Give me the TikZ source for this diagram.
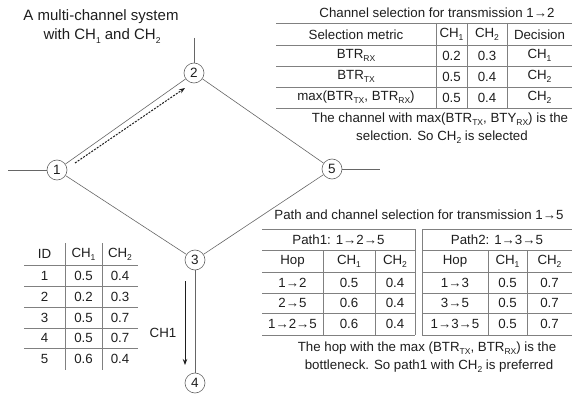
\documentclass[tikz,border=0pt]{standalone}
\usepackage{fontspec}
\setmainfont{Liberation Sans}
\usetikzlibrary{arrows.meta}
\definecolor{txt}{HTML}{1E1E1E}
\definecolor{edgec}{HTML}{666666}
\definecolor{rulec}{HTML}{808080}
\newcommand\sbs[1]{\raisebox{-0.45ex}{\fontsize{8.5}{8.5}\selectfont #1}}
\newcommand\ar{→}
\begin{document}
\begin{tikzpicture}[x=1pt,y=-1pt,
  every node/.style={inner sep=0pt,text=txt},
  tab/.style={font=\fontsize{13.3}{15}\selectfont},
  ttl/.style={font=\fontsize{13.3}{15}\selectfont},
  big/.style={font=\fontsize{15}{18}\selectfont},
  vtx/.style={circle,draw=edgec,fill=white,line width=0.6pt,minimum size=20pt,font=\fontsize{13.5}{15}\selectfont},
  edge/.style={draw=edgec,line width=0.6pt},
  rule/.style={draw=rulec,line width=0.7pt}]
\useasboundingbox (0,0) rectangle (574,396);
\fill[white] (0,0) rectangle (574,396);

% title
\node[big] (t1) at (101,17) {A multi-channel system};
\node[big] (t2) at (102,36) {with CH\sbs{1} and CH\sbs{2}};

% graph
\coordinate (e1) at (8,170);
\coordinate (e2) at (194,38);
\coordinate (e5) at (380,169);
\node[vtx] (n1) at (57,170) {1};
\node[vtx] (n2) at (194,73) {2};
\node[vtx] (n5) at (332,169) {5};
\node[vtx] (n3) at (195,260) {3};
\node[vtx] (n4) at (195,383) {4};
\draw[edge] (e1) -- (n1);
\draw[edge] (e2) -- (n2);
\draw[edge] (n5) -- (e5);
\draw[edge] (n1) -- (n2);
\draw[edge] (n2) -- (n5);
\draw[edge] (n1) -- (n3);
\draw[edge] (n3) -- (n5);
\draw[edge] (n3) -- (n4);

\coordinate (da) at (75,163);
\coordinate (db) at (185,88);
\draw[txt,line width=1pt,dash pattern=on 2pt off 1.3pt,-{Stealth[length=6pt,width=4.5pt]}] (da) -- (db);
\coordinate (ca) at (185,281);
\coordinate (cb) at (185,365);
\draw[txt,line width=1pt,-{Stealth[length=6pt,width=4.5pt]}] (ca) -- (cb);
\node[tab] (ch1) at (163,333) {CH1};

% top-right table
\node[ttl] (tt) at (437,13) {Channel selection for transmission 1\ar2};
\foreach \y in {23,45,66,87,108} \draw[rule] (276,\y) -- (572,\y);
\foreach \x in {436,467,507} \draw[rule] (\x,23) -- (\x,108);
\node[tab] (a11) at (356,34.5) {Selection metric};
\node[tab] (a12) at (451.5,34.5) {CH\sbs{1}};
\node[tab] (a13) at (487,34.5) {CH\sbs{2}};
\node[tab] (a14) at (539.5,34.5) {Decision};
\node[tab] (a21) at (356,55.5) {BTR\sbs{RX}};
\node[tab] (a22) at (451.5,55.5) {0.2};
\node[tab] (a23) at (487,55.5) {0.3};
\node[tab] (a24) at (539.5,55.5) {CH\sbs{1}};
\node[tab] (a31) at (356,76.5) {BTR\sbs{TX}};
\node[tab] (a32) at (451.5,76.5) {0.5};
\node[tab] (a33) at (487,76.5) {0.4};
\node[tab] (a34) at (539.5,76.5) {CH\sbs{2}};
\node[tab] (a41) at (356,97.5) {max(BTR\sbs{TX}, BTR\sbs{RX})};
\node[tab] (a42) at (451.5,97.5) {0.5};
\node[tab] (a43) at (487,97.5) {0.4};
\node[tab] (a44) at (539.5,97.5) {CH\sbs{2}};
\node[tab] (ac1) at (440,119) {The channel with max(BTR\sbs{TX}, BTY\sbs{RX}) is the};
\node[tab] (ac2) at (442,137) {selection. So CH\sbs{2} is selected};

% bottom-right table
\node[ttl] (bt) at (419,215) {Path and channel selection for transmission 1\ar5};
\foreach \y in {229,250,272,293,313,335} \draw[rule] (262,\y) -- (415,\y) (422,\y) -- (572,\y);
\foreach \x in {415,422} \draw[rule] (\x,229) -- (\x,335);
\foreach \x in {323,375,488,527} \draw[rule] (\x,250) -- (\x,335);
\node[tab] (p1) at (338.5,239.5) {Path1: 1\ar2\ar5};
\node[tab] (p2) at (497,239.5) {Path2: 1\ar3\ar5};
\node[tab] (b11) at (292.5,261) {Hop};
\node[tab] (b12) at (349,261) {CH\sbs{1}};
\node[tab] (b13) at (395,261) {CH\sbs{2}};
\node[tab] (b14) at (455,261) {Hop};
\node[tab] (b15) at (507.5,261) {CH\sbs{1}};
\node[tab] (b16) at (549.5,261) {CH\sbs{2}};
\node[tab] (b21) at (292.5,282.5) {1\ar2};
\node[tab] (b22) at (349,282.5) {0.5};
\node[tab] (b23) at (395,282.5) {0.4};
\node[tab] (b24) at (455,282.5) {1\ar3};
\node[tab] (b25) at (507.5,282.5) {0.5};
\node[tab] (b26) at (549.5,282.5) {0.7};
\node[tab] (b31) at (292.5,303) {2\ar5};
\node[tab] (b32) at (349,303) {0.6};
\node[tab] (b33) at (395,303) {0.4};
\node[tab] (b34) at (455,303) {3\ar5};
\node[tab] (b35) at (507.5,303) {0.5};
\node[tab] (b36) at (549.5,303) {0.7};
\node[tab] (b41) at (292.5,324) {1\ar2\ar5};
\node[tab] (b42) at (349,324) {0.6};
\node[tab] (b43) at (395,324) {0.4};
\node[tab] (b44) at (455,324) {1\ar3\ar5};
\node[tab] (b45) at (507.5,324) {0.5};
\node[tab] (b46) at (549.5,324) {0.7};
\node[tab] (bc1) at (427,348) {The hop with the max (BTR\sbs{TX}, BTR\sbs{RX}) is the};
\node[tab] (bc2) at (429,366) {bottleneck. So path1 with CH\sbs{2} is preferred};

% left table
\foreach \y in {265,286,307,328,348} \draw[rule] (24,\y) -- (138,\y);
\foreach \x in {65,102} \draw[rule] (\x,243) -- (\x,370);
\node[tab] (c01) at (44.5,254) {ID};
\node[tab] (c02) at (83.5,254) {CH\sbs{1}};
\node[tab] (c03) at (120,254) {CH\sbs{2}};
\node[tab] (c11) at (44.5,275.5) {1};
\node[tab] (c12) at (83.5,275.5) {0.5};
\node[tab] (c13) at (120,275.5) {0.4};
\node[tab] (c21) at (44.5,296.5) {2};
\node[tab] (c22) at (83.5,296.5) {0.2};
\node[tab] (c23) at (120,296.5) {0.3};
\node[tab] (c31) at (44.5,317.5) {3};
\node[tab] (c32) at (83.5,317.5) {0.5};
\node[tab] (c33) at (120,317.5) {0.7};
\node[tab] (c41) at (44.5,338) {4};
\node[tab] (c42) at (83.5,338) {0.5};
\node[tab] (c43) at (120,338) {0.7};
\node[tab] (c51) at (44.5,359) {5};
\node[tab] (c52) at (83.5,359) {0.6};
\node[tab] (c53) at (120,359) {0.4};
\end{tikzpicture}
\end{document}
